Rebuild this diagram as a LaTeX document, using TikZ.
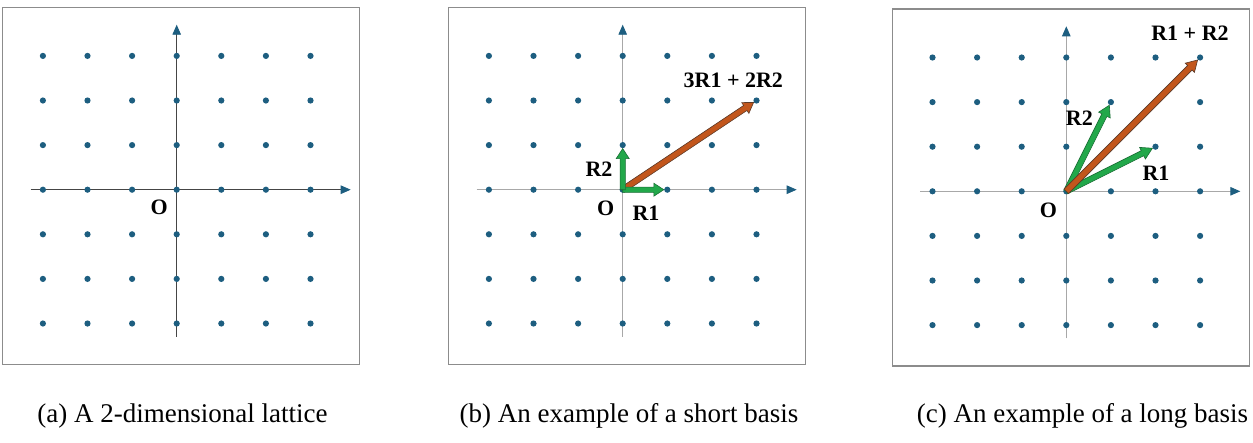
\documentclass[tikz,border=0pt]{standalone}
\usepackage{fontspec}
\setmainfont{Liberation Serif}
\usetikzlibrary{calc,arrows.meta}
\definecolor{dotblue}{HTML}{1D5E80}
\definecolor{axisdark}{HTML}{454545}
\definecolor{axislight}{HTML}{A8A8A8}
\definecolor{boxgray}{HTML}{8C8C8C}
\definecolor{vgreen}{HTML}{22A84A}
\definecolor{vgreenedge}{HTML}{1A6E35}
\definecolor{vbrown}{HTML}{C2561C}
\definecolor{vbrownedge}{HTML}{5C3A28}
\tikzset{
  boxline/.style={draw=boxgray,line width=1.3pt},
  axisline/.style={line width=0.9pt,-{Triangle[length=10pt,width=8.5pt,color=dotblue]}},
  latdot/.style={fill=dotblue},
  lbl/.style={font=\fontsize{22}{25}\selectfont\bfseries,inner sep=0pt},
  caption/.style={font=\fontsize{27}{30}\selectfont,inner sep=0pt},
  greenvec/.style={fill=vgreen,draw=vgreenedge,line width=0.6pt,line join=miter},
  brownvec/.style={fill=vbrown,draw=vbrownedge,line width=0.6pt,line join=miter},
}
% block arrow: start, end, shaft half width, head half width, head length, style
\newcommand\blkarrow[6]{%
  \coordinate (ba-h) at ($(#2)!#5!(#1)$);
  \filldraw[#6] ($(#1)!#3!90:(#2)$) -- ($(ba-h)!#3!-90:(#1)$) -- ($(ba-h)!#4!-90:(#1)$)
     -- (#2) -- ($(ba-h)!#4!90:(#1)$) -- ($(ba-h)!#3!90:(#1)$) -- ($(#1)!#3!-90:(#2)$) -- cycle;
}
% lattice panel: prefix, origin x, origin y, axis colour
\newcommand\latpanel[4]{%
  \begin{scope}[shift={(#2,#3)}]
    \draw[boxline] (-174,-182.4) rectangle (183,174.7);
    \coordinate (#1-xs) at (-146,0);
    \coordinate (#1-xe) at (174,0);
    \coordinate (#1-ys) at (0,147);
    \coordinate (#1-ye) at (0,-165);
    \draw[axisline,draw=#4] (#1-xs) -- (#1-xe);
    \draw[axisline,draw=#4] (#1-ys) -- (#1-ye);
    \foreach \i in {-3,...,3} \foreach \j in {-3,...,3}
      \fill[latdot] (\i*44.6,\j*44.6) circle (3.1);
    \coordinate (#1-O) at (0,0);
  \end{scope}}
\begin{document}
\begin{tikzpicture}[x=1pt,y=-1pt]
  \useasboundingbox (0,0) rectangle (1253,442);
  \fill[white] (0,0) rectangle (1253,442);
  % panel (a)
  \latpanel{a}{176.7}{189.7}{axisdark}
  \node[lbl] (a-Olbl) at (159.3,207.3) {O};
  \node[caption] (a-cap) at (182.5,416) {(a) A 2-dimensional lattice};
  % panel (b)
  \latpanel{b}{622.7}{189.7}{axislight}
  \coordinate (b-p1) at ($(b-O)+(44.6,0)$);
  \coordinate (b-p2) at ($(b-O)+(0,-44.6)$);
  \coordinate (b-p3) at ($(b-O)+(133.8,-89.2)$);
  \coordinate (b-t1) at ($(b-p1)!3.5pt!(b-O)$);
  \coordinate (b-t2) at ($(b-p2)!3.5pt!(b-O)$);
  \coordinate (b-t3) at ($(b-p3)!3.5pt!(b-O)$);
  \blkarrow{b-O}{b-t3}{3pt}{6.5pt}{10pt}{brownvec}
  \blkarrow{b-O}{b-t1}{2.6pt}{6.5pt}{10pt}{greenvec}
  \blkarrow{b-O}{b-t2}{2.6pt}{6.5pt}{10pt}{greenvec}
  \node[lbl] (b-Olbl) at (605.7,208.3) {O};
  \node[lbl] (b-R1) at (646,213.3) {R1};
  \node[lbl] (b-R2) at (599,169) {R2};
  \node[lbl] (b-R3) at (733.3,80.7) {3R1 + 2R2};
  \node[caption] (b-cap) at (629,416) {(b) An example of a short basis};
  % panel (c)
  \latpanel{c}{1066.3}{191.3}{axislight}
  \coordinate (c-p1) at ($(c-O)+(89.2,-44.6)$);
  \coordinate (c-p2) at ($(c-O)+(44.6,-89.2)$);
  \coordinate (c-p3) at ($(c-O)+(133.8,-133.8)$);
  \coordinate (c-t1) at ($(c-p1)!3.5pt!(c-O)$);
  \coordinate (c-t2) at ($(c-p2)!3.5pt!(c-O)$);
  \coordinate (c-t3) at ($(c-p3)!3.5pt!(c-O)$);
  \blkarrow{c-O}{c-t1}{2.8pt}{6.5pt}{11pt}{greenvec}
  \blkarrow{c-O}{c-t2}{2.8pt}{6.5pt}{11pt}{greenvec}
  \blkarrow{c-O}{c-t3}{3.2pt}{6.5pt}{11pt}{brownvec}
  \node[lbl] (c-Olbl) at (1048.3,210) {O};
  \node[lbl] (c-R1) at (1156,173.3) {R1};
  \node[lbl] (c-R2) at (1079.3,118.3) {R2};
  \node[lbl] (c-R3) at (1190,33.3) {R1 + R2};
  \node[caption] (c-cap) at (1082.5,416) {(c) An example of a long basis};
\end{tikzpicture}
\end{document}
